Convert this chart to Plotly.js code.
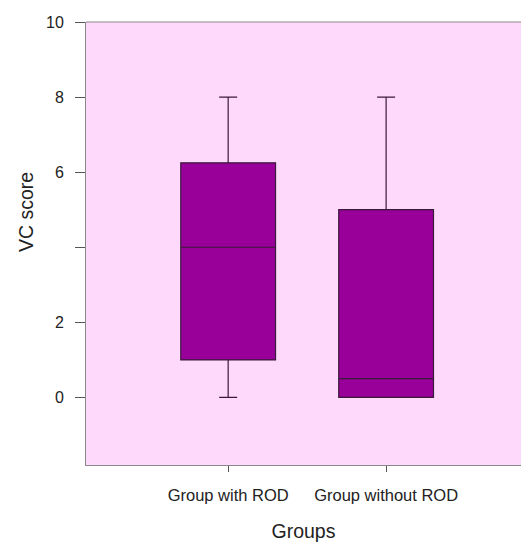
<!DOCTYPE html>
<html>
<head>
<meta charset="utf-8">
<script src="https://cdn.plot.ly/plotly-3.0.1.min.js"></script>
<style>
  html, body { margin: 0; padding: 0; background: #ffffff; overflow: hidden; }
  #chart { width: 521px; height: 542px; }
</style>
</head>
<body>
<div id="chart"></div>
<script>
// VC score summary per group (box plot statistics)
const groups = ['Group with ROD', 'Group without ROD'];
const lowerWhisker = [0, 0];
const q1Values = [1, 0];
const medianValues = [4, 0.5];
const q3Values = [6.25, 5];
const upperWhisker = [8, 8];

const yTickVals = [0, 2, 4, 6, 8, 10];
const yTickText = ['0', '2', '', '6', '8', '10'];

const FONT = 'Liberation Sans, Arial, sans-serif';

const trace = {
  type: 'box',
  x: groups,
  lowerfence: lowerWhisker,
  q1: q1Values,
  median: medianValues,
  q3: q3Values,
  upperfence: upperWhisker,
  width: 0.6,
  whiskerwidth: 0.19,
  fillcolor: '#990099',
  line: { color: '#3a1a3a', width: 1.2 },
  boxpoints: false,
  hoverinfo: 'skip'
};

const layout = {
  width: 521,
  height: 542,
  margin: { l: 86, r: 0, t: 22, b: 77 },
  paper_bgcolor: '#ffffff',
  plot_bgcolor: '#ffd9fc',
  showlegend: false,
  font: { family: FONT, size: 13, color: '#222' },
  xaxis: {
    type: 'category',
    range: [-0.9, 1.854],
    showgrid: false,
    zeroline: false,
    showline: true,
    mirror: false,
    linecolor: '#888',
    linewidth: 1,
    ticks: 'outside',
    ticklen: 6,
    tickcolor: '#555',
    tickfont: { family: FONT, size: 16.5, color: '#222' },
    ticklabelstandoff: 9,
    title: {
      text: 'Groups',
      font: { family: FONT, size: 19.5, color: '#222' },
      standoff: 25
    }
  },
  yaxis: {
    range: [-1.8, 10],
    tickvals: yTickVals,
    ticktext: yTickText,
    showgrid: false,
    zeroline: false,
    showline: true,
    mirror: false,
    linecolor: '#888',
    linewidth: 1,
    ticks: 'outside',
    ticklen: 10,
    tickcolor: '#555',
    tickfont: { family: FONT, size: 16, color: '#222' },
    ticklabelstandoff: 8
  },
  // top frame line of the plotting area
  shapes: [{
    type: 'line',
    xref: 'paper', yref: 'paper',
    x0: 0, x1: 1, y0: 1, y1: 1,
    line: { color: '#888', width: 1 }
  }],
  annotations: [{
    text: 'VC score',
    textangle: -90,
    xref: 'paper', yref: 'paper',
    x: -0.138, y: 0.571,
    xanchor: 'center', yanchor: 'middle',
    showarrow: false,
    font: { family: FONT, size: 19.5, color: '#222' }
  }]
};

Plotly.newPlot('chart', [trace], layout, { displayModeBar: false, staticPlot: true });
</script>
</body>
</html>
